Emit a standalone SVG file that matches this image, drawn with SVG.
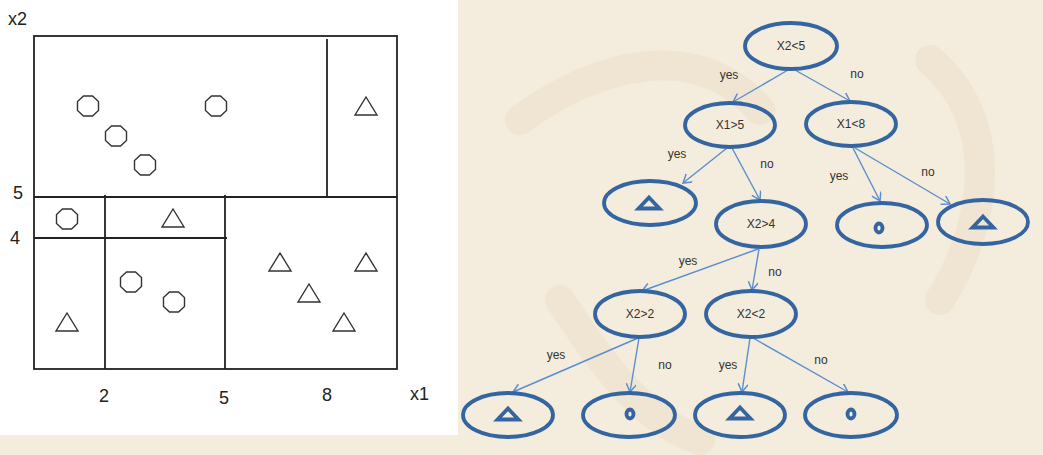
<svg xmlns="http://www.w3.org/2000/svg" width="1043" height="455" viewBox="0 0 1043 455">
<style>
.bg{fill:#f4ecdc}
.ax{stroke:#222;stroke-width:1.8;fill:none}
.pt{stroke:#333;stroke-width:1.4;fill:none}
.lab{font-family:"Liberation Sans",Arial,sans-serif;font-size:18px;fill:#222}
.node ellipse{fill:none;stroke:#3465a0;stroke-width:3.8}
.nt{font-family:"Liberation Sans",Arial,sans-serif;font-size:12px;fill:#333;text-anchor:middle}
.sym{fill:none;stroke:#3465a0;stroke-width:3.8;stroke-linejoin:miter}
.edge{stroke:#5a8ed0;stroke-width:1.4;fill:none;marker-end:url(#arr)}
.el{font-family:"Liberation Sans",Arial,sans-serif;font-size:12px;fill:#333;text-anchor:middle}
</style>
<defs>
<marker id="arr" markerWidth="12" markerHeight="12" refX="9" refY="5" orient="auto" markerUnits="userSpaceOnUse">
<path d="M1,0 L9,5 L1,10" fill="none" stroke="#5a8ed0" stroke-width="1.5"/>
</marker>
<polygon id="oct" points="-4.5,-10 4.5,-10 10.5,-4.5 10.5,4.5 4.5,10 -4.5,10 -10.5,4.5 -10.5,-4.5" class="pt"/>
<polygon id="tri" points="0,-9 11,9 -11,9" class="pt"/>
<polygon id="ltri" points="0,-5.5 10.5,5.5 -10.5,5.5" class="sym"/>
<ellipse id="lcir" rx="3.5" ry="4.5" class="sym" stroke-width="3"/>
</defs>
<rect class="bg" x="0" y="0" width="1043" height="455"/>
<g opacity="0.18" fill="none" stroke="#dcc9a6" stroke-width="30" stroke-linecap="round">
<path d="M520,120 C600,60 700,40 760,110"/>
<path d="M930,60 C1000,120 990,220 940,300"/>
<path d="M560,300 C600,360 640,420 700,440"/>
</g>
<rect x="0" y="0" width="458" height="435" fill="#ffffff"/>
<g id="plot">
<rect class="ax" x="34" y="36" width="363" height="333"/>
<line class="ax" x1="34" y1="197" x2="397" y2="197"/>
<line class="ax" x1="327" y1="39" x2="327" y2="197"/>
<line class="ax" x1="34" y1="238" x2="227" y2="238"/>
<line class="ax" x1="105" y1="195" x2="105" y2="369"/>
<line class="ax" x1="225" y1="195" x2="225" y2="369"/>
<use href="#oct" x="88" y="106"/>
<use href="#oct" x="216" y="106"/>
<use href="#oct" x="116" y="136"/>
<use href="#oct" x="145" y="165"/>
<use href="#oct" x="67" y="219"/>
<use href="#oct" x="131" y="282"/>
<use href="#oct" x="174" y="302"/>
<use href="#tri" x="366" y="106"/>
<use href="#tri" x="173" y="218"/>
<use href="#tri" x="280" y="262"/>
<use href="#tri" x="366" y="262"/>
<use href="#tri" x="309" y="293"/>
<use href="#tri" x="344" y="322"/>
<use href="#tri" x="67" y="322"/>
<text class="lab" x="8" y="25">x2</text>
<text class="lab" x="13" y="199">5</text>
<text class="lab" x="10" y="244">4</text>
<text class="lab" x="99" y="402">2</text>
<text class="lab" x="219" y="404">5</text>
<text class="lab" x="322" y="401">8</text>
<text class="lab" x="410" y="400">x1</text>
</g>
<g id="connectors">
<line class="edge" x1="788" y1="70" x2="733" y2="102"/>
<line class="edge" x1="795" y1="70" x2="850" y2="101"/>
<line class="edge" x1="727" y1="148" x2="683" y2="183"/>
<line class="edge" x1="732" y1="148" x2="760" y2="200"/>
<line class="edge" x1="853" y1="148" x2="880" y2="201"/>
<line class="edge" x1="855" y1="148" x2="950" y2="204"/>
<line class="edge" x1="758" y1="249" x2="642" y2="291"/>
<line class="edge" x1="759" y1="249" x2="752" y2="290"/>
<line class="edge" x1="638" y1="338" x2="513" y2="392"/>
<line class="edge" x1="639" y1="338" x2="630" y2="392"/>
<line class="edge" x1="750" y1="338" x2="742" y2="392"/>
<line class="edge" x1="753" y1="338" x2="848" y2="392"/>
<text class="el" x="729" y="79">yes</text>
<text class="el" x="857" y="78">no</text>
<text class="el" x="677" y="158">yes</text>
<text class="el" x="767" y="168">no</text>
<text class="el" x="839" y="180">yes</text>
<text class="el" x="928" y="176">no</text>
<text class="el" x="688" y="265">yes</text>
<text class="el" x="775" y="276">no</text>
<text class="el" x="556" y="359">yes</text>
<text class="el" x="665" y="369">no</text>
<text class="el" x="728" y="369">yes</text>
<text class="el" x="821" y="364">no</text>
</g>
<g id="n_root" class="node"><ellipse cx="791" cy="46" rx="46" ry="23"/><text class="nt" x="791" y="50">X2&lt;5</text></g>
<g id="n_x1gt5" class="node"><ellipse cx="730" cy="125" rx="45" ry="22"/><text class="nt" x="730" y="129">X1&gt;5</text></g>
<g id="n_x1lt8" class="node"><ellipse cx="851" cy="124" rx="45" ry="22"/><text class="nt" x="851" y="128">X1&lt;8</text></g>
<g id="l_tri1" class="node"><ellipse cx="650" cy="203" rx="46" ry="22"/><use href="#ltri" x="649" y="203"/></g>
<g id="n_x2gt4" class="node"><ellipse cx="761" cy="224" rx="45" ry="23"/><text class="nt" x="761" y="228">X2&gt;4</text></g>
<g id="l_cir1" class="node"><ellipse cx="882" cy="225" rx="45" ry="22"/><use href="#lcir" x="879" y="228"/></g>
<g id="l_tri2" class="node"><ellipse cx="983" cy="222" rx="45" ry="22"/><use href="#ltri" x="983" y="222"/></g>
<g id="n_x2gt2" class="node"><ellipse cx="640" cy="314" rx="45" ry="23"/><text class="nt" x="640" y="318">X2&gt;2</text></g>
<g id="n_x2lt2" class="node"><ellipse cx="751" cy="314" rx="45" ry="23"/><text class="nt" x="751" y="318">X2&lt;2</text></g>
<g id="l_tri3" class="node"><ellipse cx="508" cy="415" rx="45" ry="22"/><use href="#ltri" x="508" y="414"/></g>
<g id="l_cir2" class="node"><ellipse cx="629" cy="415" rx="46" ry="22"/><use href="#lcir" x="630" y="414"/></g>
<g id="l_tri4" class="node"><ellipse cx="740" cy="415" rx="45" ry="22"/><use href="#ltri" x="740" y="413"/></g>
<g id="l_cir3" class="node"><ellipse cx="851" cy="415" rx="46" ry="22"/><use href="#lcir" x="851" y="414"/></g>
</svg>
